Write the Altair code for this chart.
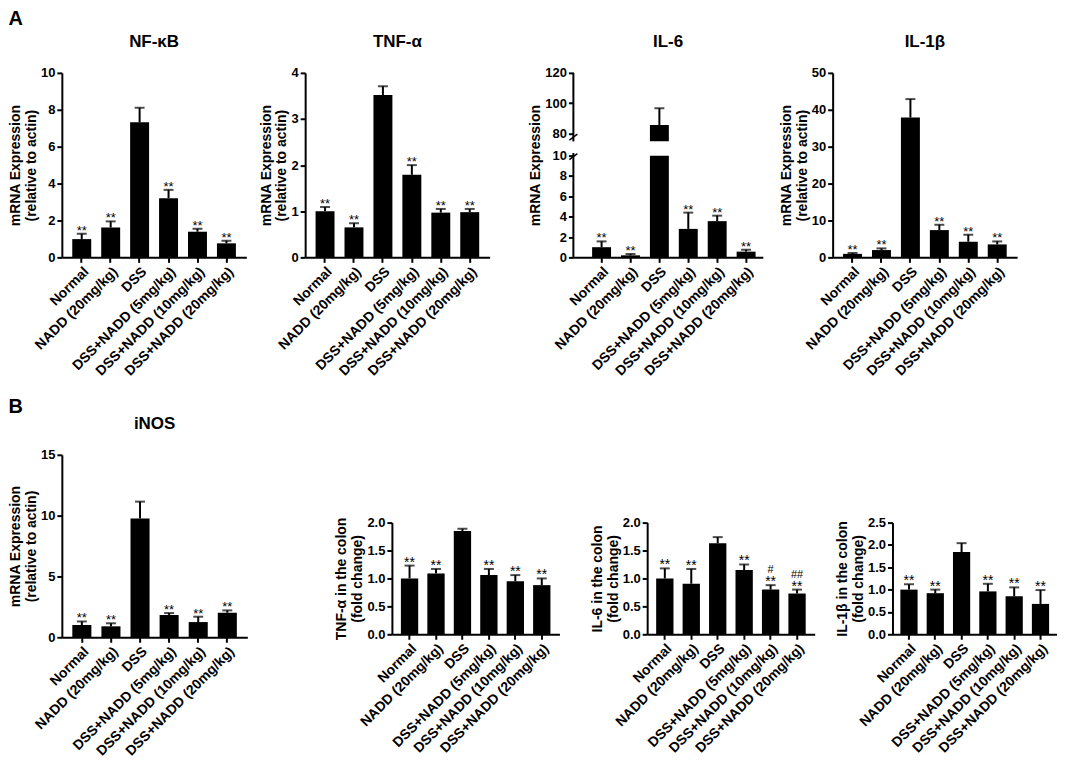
import altair as alt
import pandas as pd

FONT = "Liberation Sans"

groups = ["Normal", "NADD (20mg/kg)", "DSS", "DSS+NADD (5mg/kg)",
          "DSS+NADD (10mg/kg)", "DSS+NADD (20mg/kg)"]
sig_all = ["**", "**", "", "**", "**", "**"]

# ---- Panel A (mRNA, relative to actin) ----
nfkb_mean = [0.99, 1.62, 7.32, 3.21, 1.39, 0.76]
nfkb_sem = [0.29, 0.33, 0.79, 0.45, 0.16, 0.14]

tnf_mean = [1.00, 0.65, 3.52, 1.79, 0.97, 0.98]
tnf_sem = [0.09, 0.09, 0.19, 0.21, 0.08, 0.07]

il6_mean = [1.00, 0.20, 85.7, 2.80, 3.56, 0.56]
il6_sem = [0.57, 0.13, 11.0, 1.60, 0.54, 0.19]

il1b_mean = [0.95, 1.98, 37.9, 7.39, 4.23, 3.51]
il1b_sem = [0.25, 0.45, 5.0, 1.44, 1.90, 0.81]

# ---- Panel B ----
inos_mean = [1.00, 0.90, 9.76, 1.83, 1.25, 2.02]
inos_sem = [0.30, 0.25, 1.39, 0.16, 0.44, 0.19]

tnfc_mean = [1.00, 1.09, 1.85, 1.06, 0.95, 0.88]
tnfc_sem = [0.23, 0.08, 0.04, 0.11, 0.11, 0.12]

il6c_mean = [1.00, 0.905, 1.63, 1.15, 0.80, 0.73]
il6c_sem = [0.18, 0.265, 0.11, 0.10, 0.08, 0.07]
il6c_hash = ["", "", "", "", "#", "##"]

il1bc_mean = [1.00, 0.92, 1.84, 0.96, 0.85, 0.68]
il1bc_sem = [0.12, 0.08, 0.20, 0.17, 0.20, 0.31]

mrna_title = ["mRNA Expression", "(relative to actin)"]


def make_df(means, sems, hashes=None):
    return pd.DataFrame({
        "group": groups,
        "mean": means,
        "top": [m + s for m, s in zip(means, sems)],
        "sig": sig_all,
        "hash": hashes if hashes else [""] * len(groups),
    })


def xenc(po=0.36, align=0.5):
    return alt.X("group:N", sort=groups,
                 scale=alt.Scale(paddingInner=0.345, paddingOuter=po, align=align),
                 axis=alt.Axis(title=None, labelAngle=-45, labelFontSize=14))


def panel(means, sems, ymax, ticks, ytitle, width, height, title=None,
          fmt="d", po=0.36, align=0.5, hashes=None, sigsize=13, title_offset=16):
    df = make_df(means, sems, hashes)
    base = alt.Chart(df)
    x = xenc(po, align)
    yscale = alt.Scale(domain=[0, ymax], nice=False)
    bars = base.mark_bar(color="black").encode(
        x=x,
        y=alt.Y("mean:Q", scale=yscale,
                axis=alt.Axis(values=ticks, tickCount=30, format=fmt, title=ytitle,
                              labelOverlap=False, titlePadding=2, titleLineHeight=16)))
    err = base.mark_rule(color="black", strokeWidth=2).encode(x=x, y="mean:Q", y2="top:Q")
    cap = base.mark_tick(color="black", thickness=2, size=10).encode(x=x, y="top:Q")
    sig = base.mark_text(font=FONT, fontSize=sigsize, baseline="alphabetic", dy=1,
                         color="black").encode(x=x, y="top:Q", text="sig:N")
    layers = [bars, err, cap, sig]
    if hashes:
        hs = base.mark_text(font=FONT, fontSize=11, baseline="alphabetic", dy=-12,
                            color="black").encode(x=x, y="top:Q", text="hash:N")
        layers.append(hs)
    ch = alt.layer(*layers).properties(width=width, height=height)
    if title:
        ch = ch.properties(title=alt.TitleParams(title, fontSize=17, offset=title_offset,
                                                 frame="group"))
    return ch


# ---- IL-6 with broken axis (piecewise scale) ----
IL6_H = 185
il6_domain = [0, 10, 75, 120]
il6_range = [IL6_H, 83, 68.5, 0]


def il6_panel():
    df = make_df(il6_mean, il6_sem)
    df["zero"] = 0.0
    df["low"] = [min(m, 10) for m in il6_mean]
    df["brk"] = 75.0
    base = alt.Chart(df)
    x = xenc(0.45, 0.72)
    ysc = alt.Scale(domain=il6_domain, range=il6_range, nice=False, zero=False)
    low = base.mark_bar(color="black").encode(
        x=x,
        y=alt.Y("low:Q", scale=ysc,
                axis=alt.Axis(values=[0, 2, 4, 6, 8, 10, 80, 100, 120], tickCount=30,
                              format="d", labelOverlap=False, title="mRNA Expression",
                              domain=False, titlePadding=2)),
        y2="zero:Q")
    high = base.transform_filter("datum.mean > 75").mark_bar(color="black").encode(
        x=x, y="mean:Q", y2="brk:Q")
    err = base.mark_rule(color="black", strokeWidth=2).encode(x=x, y="mean:Q", y2="top:Q")
    cap = base.mark_tick(color="black", thickness=2, size=10).encode(x=x, y="top:Q")
    sig = base.mark_text(font=FONT, fontSize=13, baseline="alphabetic", dy=1,
                         color="black").encode(x=x, y="top:Q", text="sig:N")
    seg = pd.DataFrame({"a": [0, 74], "b": [22, 120]})
    axis_lines = alt.Chart(seg).mark_rule(color="black", strokeWidth=2).encode(
        x=alt.value(0), y="a:Q", y2="b:Q")
    slash = pd.DataFrame({"y0": [il6_range[2] - 1, il6_range[1] + 4],
                          "y1": [il6_range[2] - 7, il6_range[1] - 2]})
    slashes = alt.Chart(slash).mark_rule(color="black", strokeWidth=1.5).encode(
        x=alt.value(-4), x2=alt.value(4),
        y=alt.Y("y0:Q", scale=None), y2="y1:Q")
    ch = alt.layer(low, high, err, cap, sig, axis_lines, slashes).properties(
        width=190, height=IL6_H,
        title=alt.TitleParams("IL-6", fontSize=17, offset=16, frame="group"))
    return ch


p_nfkb = panel(nfkb_mean, nfkb_sem, 10, [0, 2, 4, 6, 8, 10], mrna_title, 185, 185, "NF-κB")
p_tnf = panel(tnf_mean, tnf_sem, 4, [0, 1, 2, 3, 4], mrna_title, 185, 185, "TNF-α")
p_il6 = il6_panel()
p_il1b = panel(il1b_mean, il1b_sem, 50, [0, 10, 20, 30, 40, 50], mrna_title, 185, 185, "IL-1β")

p_inos = panel(inos_mean, inos_sem, 15, [0, 5, 10, 15], mrna_title, 186, 183, "iNOS",
               title_offset=16)
p_tnfc = panel(tnfc_mean, tnfc_sem, 2.0, [0, 0.5, 1.0, 1.5, 2.0],
               ["TNF-α in the colon", "(fold change)"], 168, 112, fmt=".1f", po=0.34,
               sigsize=14)
p_il6c = panel(il6c_mean, il6c_sem, 2.0, [0, 0.5, 1.0, 1.5, 2.0],
               ["IL-6  in the colon", "(fold change)"], 168, 112, fmt=".1f", po=0.34,
               hashes=il6c_hash, sigsize=14)
p_il1bc = panel(il1bc_mean, il1bc_sem, 2.5, [0, 0.5, 1.0, 1.5, 2.0, 2.5],
                ["IL-1β in the colon", "(fold change)"], 165, 112, fmt=".1f", po=0.3,
                sigsize=14)

spacer = alt.Chart(pd.DataFrame({"v": [0]})).mark_point(opacity=0).properties(
    width=10, height=61)

top_row = alt.hconcat(
    alt.hconcat(p_nfkb, p_tnf, spacing=12),
    alt.hconcat(p_il6, p_il1b, spacing=16),
    spacing=39,
).properties(title=alt.TitleParams("A", anchor="start", fontSize=20, offset=4))
colon_row = alt.hconcat(p_tnfc, alt.hconcat(p_il6c, p_il1bc, spacing=20), spacing=30)
bottom_row = alt.hconcat(p_inos, alt.vconcat(spacer, colon_row, spacing=0),
                         spacing=87).properties(
    title=alt.TitleParams("B", anchor="start", fontSize=20, offset=-2))

chart = alt.vconcat(top_row, bottom_row, spacing=18).properties(
    padding={"left": 0, "top": 0, "right": 0, "bottom": 0}
).configure(font=FONT).configure_view(stroke=None).configure_axis(
    domainColor="black", domainWidth=2, tickColor="black", tickWidth=2, tickSize=5,
    labelColor="black", labelFont=FONT, labelFontSize=13, labelFontWeight="bold",
    labelPadding=2, titleColor="black", titleFont=FONT, titleFontSize=14,
    titleFontWeight="bold", grid=False
).configure_title(font=FONT, fontWeight="bold", color="black")

chart.save("out.html", embed_options={"renderer": "svg", "actions": False})
